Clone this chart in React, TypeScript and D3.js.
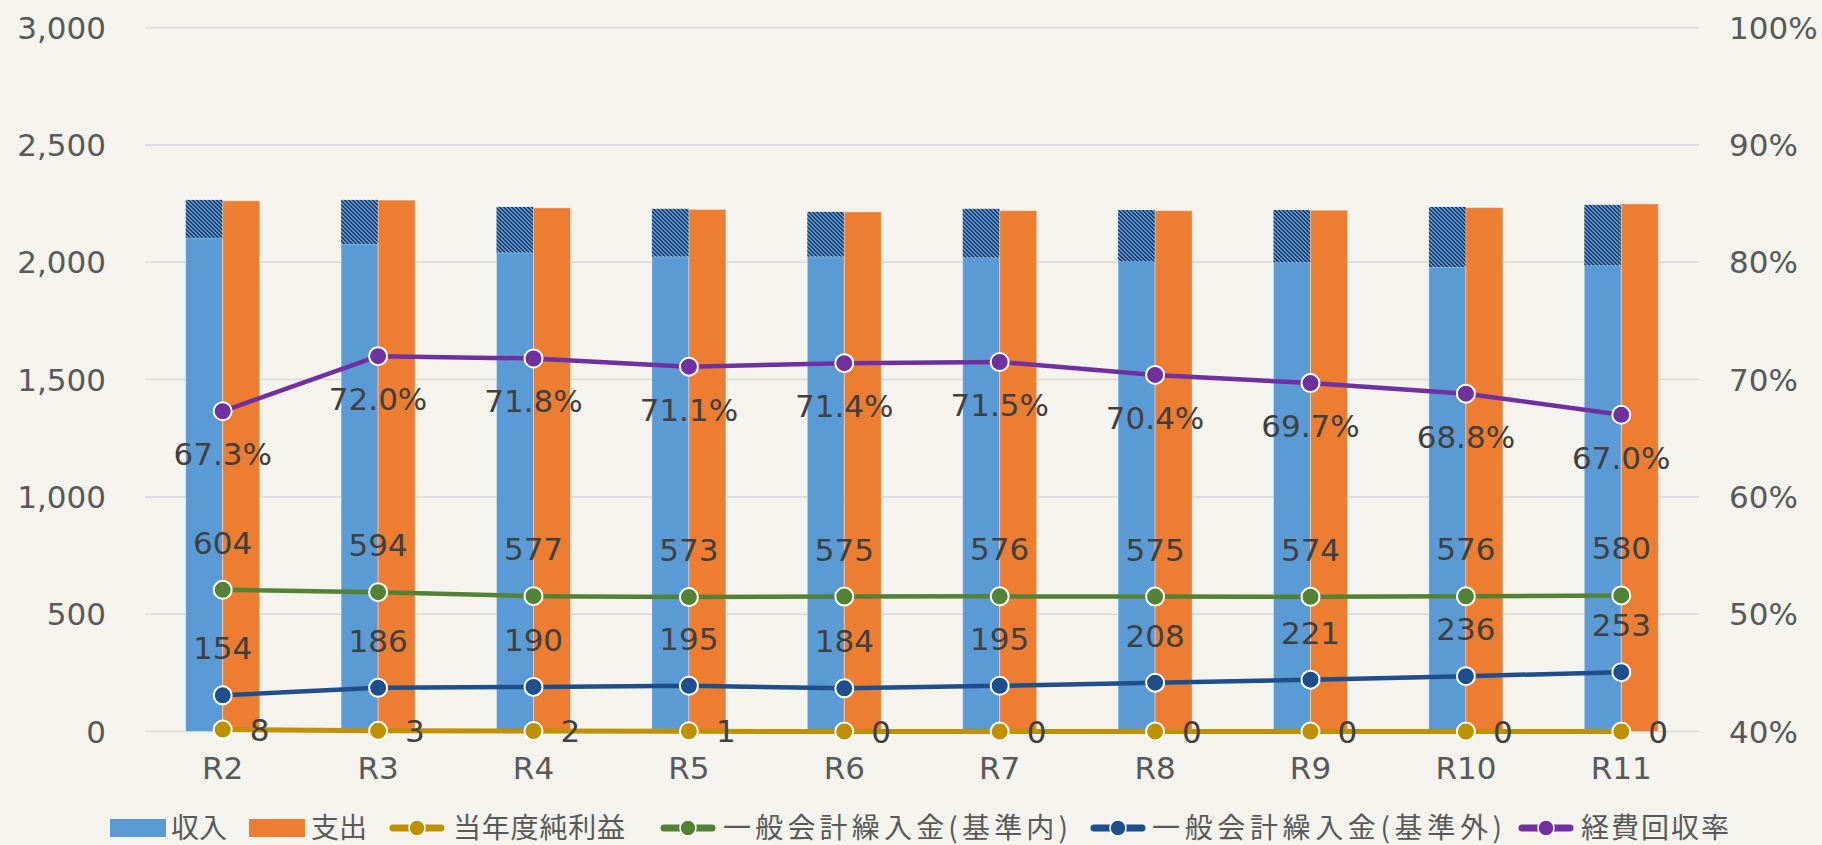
import React, { useEffect } from "react";
import * as d3 from "d3";

const categories = ["R2", "R3", "R4", "R5", "R6", "R7", "R8", "R9", "R10", "R11"];
const revenueBase = [2104, 2078, 2041, 2024, 2024, 2020, 2003, 1999, 1979, 1986];
const revenueHatch = [162, 188, 195, 204, 191, 208, 220, 224, 257, 259];
const expense = [2262, 2265, 2232, 2225, 2215, 2220, 2220, 2222, 2233, 2249];
const netProfit = [8, 3, 2, 1, 0, 0, 0, 0, 0, 0];
const transferIn = [604, 594, 577, 573, 575, 576, 575, 574, 576, 580];
const transferOut = [154, 186, 190, 195, 184, 195, 208, 221, 236, 253];
const recoveryRate = [67.3, 72.0, 71.8, 71.1, 71.4, 71.5, 70.4, 69.7, 68.8, 67.0];
const leftTicks = [0, 500, 1000, 1500, 2000, 2500, 3000];
const rightTicks = [40, 50, 60, 70, 80, 90, 100];
const legendLabels = ["収入", "支出", "当年度純利益", "一般会計繰入金(基準内)", "一般会計繰入金(基準外)", "経費回収率"];

const W = 1822;
const H = 845;
const BG = "#F4F3ED";
const C_BLUE = "#5B9BD5";
const C_ORANGE = "#ED7D31";
const C_GOLD = "#BF9000";
const C_GREEN = "#548235";
const C_NAVY = "#1F4E8C";
const C_PURPLE = "#7030A0";
const C_HATCH = "#1F3864";
const FONT = "'DejaVu Sans', sans-serif";
const CJK = "'Noto Sans CJK JP', sans-serif";

export default function App() {
  useEffect(() => {
    document.body.style.margin = "0";
    document.body.style.background = BG;
  }, []);

  const plot = { left: 145, right: 1699, top: 27.7, bottom: 731.5 };
  const x = d3.scaleBand<string>().domain(categories).range([plot.left, plot.right]).padding(0);
  const y = d3.scaleLinear().domain([0, 3000]).range([plot.bottom, plot.top]);
  const y2 = d3.scaleLinear().domain([40, 100]).range([plot.bottom, plot.top]);
  const cx = (c: string) => (x(c) as number) + x.bandwidth() / 2;
  const barW = 37;

  const lineGen = (vals: number[], sc: d3.ScaleLinear<number, number>) =>
    d3.line<number>().x((_, i) => cx(categories[i])).y((v) => sc(v))(vals) as string;

  const lineSeries = [
    { vals: netProfit, sc: y, color: C_GOLD, width: 5, labelPos: "right", fmt: (v: number) => String(v) },
    { vals: transferIn, sc: y, color: C_GREEN, width: 4.5, labelPos: "above", fmt: (v: number) => String(v) },
    { vals: transferOut, sc: y, color: C_NAVY, width: 4.5, labelPos: "above", fmt: (v: number) => String(v) },
    { vals: recoveryRate, sc: y2, color: C_PURPLE, width: 4.5, labelPos: "below", fmt: (v: number) => v.toFixed(1) + "%" },
  ];

  const legendItems = [
    { kind: "rect", color: C_BLUE, mx: 110, tx: 171 },
    { kind: "rect", color: C_ORANGE, mx: 249, tx: 311 },
    { kind: "line", color: C_GOLD, mx: 389, tx: 453, len: 172 },
    { kind: "line", color: C_GREEN, mx: 660, tx: 723, len: 345 },
    { kind: "line", color: C_NAVY, mx: 1090, tx: 1152, len: 350 },
    { kind: "line", color: C_PURPLE, mx: 1518, tx: 1581, len: 148 },
  ];
  const legendY = 828;

  return (
    <svg width={W} height={H} style={{ display: "block", background: BG }}>
      <defs>
        <pattern id="hatch" width="4" height="4" patternUnits="userSpaceOnUse">
          <rect width="4" height="4" fill={C_BLUE} />
          <rect x="0" y="0" width="2" height="1" fill={C_HATCH} />
          <rect x="1" y="1" width="2" height="1" fill={C_HATCH} />
          <rect x="2" y="2" width="2" height="1" fill={C_HATCH} />
          <rect x="3" y="3" width="1" height="1" fill={C_HATCH} />
          <rect x="0" y="3" width="1" height="1" fill={C_HATCH} />
        </pattern>
      </defs>
      <rect width={W} height={H} fill={BG} />

      {leftTicks.map((t) => (
        <line key={"g" + t} x1={plot.left} x2={plot.right} y1={y(t)} y2={y(t)} stroke="#D9D9D9" strokeWidth={1.5} />
      ))}

      {leftTicks.map((t) => (
        <text key={"l" + t} x={106} y={y(t)} textAnchor="end" dominantBaseline="central" fontFamily={FONT} fontSize={31} fill="#595959">
          {d3.format(",")(t)}
        </text>
      ))}
      {rightTicks.map((t) => (
        <text key={"r" + t} x={1729} y={y2(t)} textAnchor="start" dominantBaseline="central" fontFamily={FONT} fontSize={31} fill="#595959">
          {t + "%"}
        </text>
      ))}

      {categories.map((c, i) => (
        <g key={"b" + c}>
          <rect x={cx(c) - barW} y={y(revenueBase[i])} width={barW} height={y(0) - y(revenueBase[i])} fill={C_BLUE} stroke="rgba(255,255,255,0.35)" strokeWidth={1} />
          <rect x={cx(c) - barW} y={y(revenueBase[i] + revenueHatch[i])} width={barW} height={y(revenueBase[i]) - y(revenueBase[i] + revenueHatch[i])} fill="url(#hatch)" />
          <rect x={cx(c)} y={y(expense[i])} width={barW} height={y(0) - y(expense[i])} fill={C_ORANGE} stroke="rgba(255,255,255,0.35)" strokeWidth={1} />
        </g>
      ))}

      {categories.map((c) => (
        <text key={"c" + c} x={cx(c)} y={768} textAnchor="middle" dominantBaseline="central" fontFamily={FONT} fontSize={31} fill="#595959">
          {c}
        </text>
      ))}

      {lineSeries.map((s, si) => (
        <g key={"s" + si}>
          <path d={lineGen(s.vals, s.sc)} fill="none" stroke={s.color} strokeWidth={s.width} strokeLinejoin="round" />
          {s.vals.map((v, i) => (
            <circle key={i} cx={cx(categories[i])} cy={s.sc(v)} r={9} fill={s.color} stroke="#fff" strokeWidth={2} />
          ))}
        </g>
      ))}

      {lineSeries.map((s, si) =>
        s.vals.map((v, i) => {
          const px = cx(categories[i]);
          const py = s.sc(v);
          let lx = px, ly = py, anchor = "middle";
          if (s.labelPos === "right") { lx = px + 27; anchor = "start"; }
          if (s.labelPos === "above") ly = py - 47;
          if (s.labelPos === "below") ly = py + 43;
          return (
            <text key={"t" + si + "_" + i} x={lx} y={ly} textAnchor={anchor as any} dominantBaseline="central" fontFamily={FONT} fontSize={31} fill="#404040">
              {s.fmt(v)}
            </text>
          );
        })
      )}

      {legendItems.map((it, i) => (
        <g key={"lg" + i}>
          {it.kind === "rect" ? (
            <rect x={it.mx} y={legendY - 9} width={56} height={18} fill={it.color} />
          ) : (
            <g>
              <line x1={it.mx + 4} x2={it.mx + 52} y1={legendY} y2={legendY} stroke={it.color} strokeWidth={7} strokeLinecap="round" />
              <circle cx={it.mx + 28} cy={legendY} r={8} fill={it.color} stroke="#fff" strokeWidth={1.5} />
            </g>
          )}
          <text
            x={it.tx}
            y={legendY + 10}
            fontFamily={CJK}
            fontSize={28}
            fill="#595959"
            {...(it.len ? { textLength: it.len, lengthAdjust: "spacing" } : {})}
          >
            {legendLabels[i]}
          </text>
        </g>
      ))}
    </svg>
  );
}
